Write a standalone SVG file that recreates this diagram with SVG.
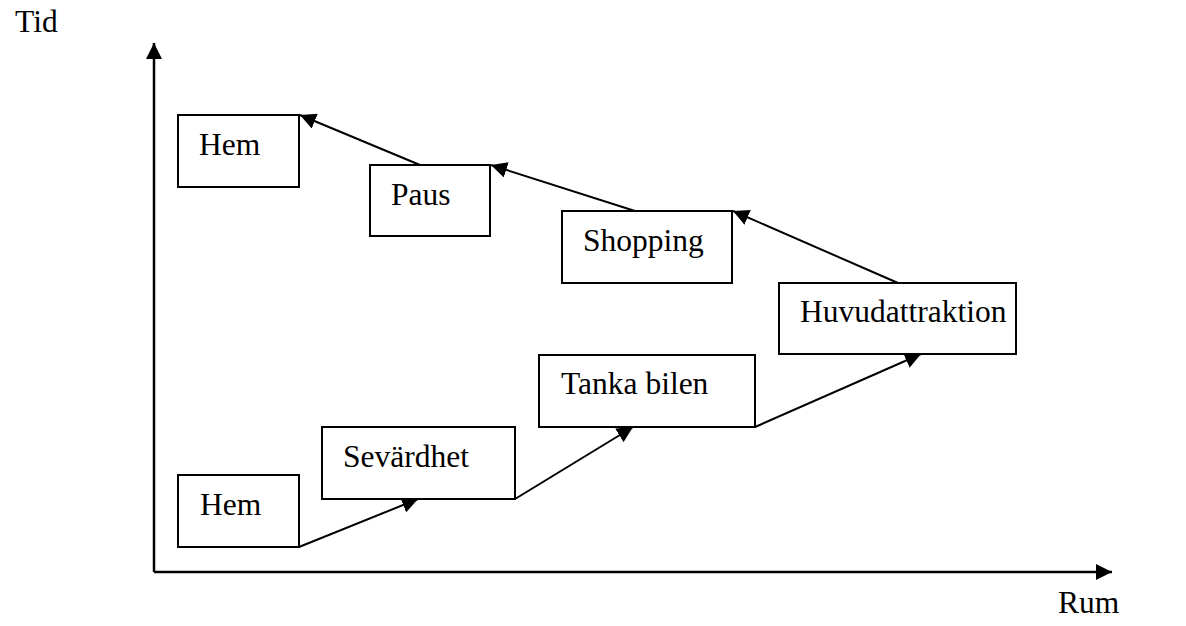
<svg xmlns="http://www.w3.org/2000/svg" width="1186" height="626" viewBox="0 0 1186 626">
<style>
.box{fill:#fff;stroke:#000;stroke-width:2}
.lbl{font-family:"Liberation Serif","Times New Roman",serif;font-size:31.5px;fill:#000}
.con{stroke:#000;stroke-width:2;fill:none;marker-end:url(#ah)}
.axis{stroke:#000;stroke-width:2.5;fill:none;marker-end:url(#ah)}
</style>
<defs>
<marker id="ah" viewBox="0 0 16 16" refX="16" refY="8" markerWidth="16" markerHeight="16" markerUnits="userSpaceOnUse" orient="auto">
<path d="M0,0 L16,8 L0,16 Z" fill="#000"/>
</marker>
</defs>
<rect width="1186" height="626" fill="#fff"/>
<g id="axes">
<line class="axis" x1="154" y1="572" x2="154" y2="43"/>
<line class="axis" x1="154" y1="572" x2="1112" y2="572"/>
<text class="lbl" x="15" y="32">Tid</text>
<text class="lbl" x="1058" y="613">Rum</text>
</g>
<g id="connectors">
<line class="con" x1="299" y1="547" x2="418" y2="499"/>
<line class="con" x1="515" y1="499" x2="633" y2="427"/>
<line class="con" x1="755" y1="427" x2="921" y2="354"/>
<line class="con" x1="898" y1="283" x2="733" y2="211"/>
<line class="con" x1="635" y1="211" x2="491" y2="165"/>
<line class="con" x1="420" y1="165" x2="300" y2="115"/>
</g>
<g id="hem-top"><rect class="box" x="178" y="115" width="121" height="72"/><text class="lbl" x="199" y="155">Hem</text></g>
<g id="paus"><rect class="box" x="370" y="165" width="120" height="71"/><text class="lbl" x="391" y="205">Paus</text></g>
<g id="shopping"><rect class="box" x="562" y="211" width="170" height="72"/><text class="lbl" x="583" y="251">Shopping</text></g>
<g id="huvudattraktion"><rect class="box" x="779" y="283" width="237" height="71"/><text class="lbl" x="800" y="322">Huvudattraktion</text></g>
<g id="tanka-bilen"><rect class="box" x="539" y="355" width="216" height="72"/><text class="lbl" x="561" y="394">Tanka bilen</text></g>
<g id="sevardhet"><rect class="box" x="322" y="427" width="193" height="72"/><text class="lbl" x="343" y="467">Sevärdhet</text></g>
<g id="hem-bottom"><rect class="box" x="178" y="475" width="121" height="72"/><text class="lbl" x="200" y="515">Hem</text></g>
</svg>
